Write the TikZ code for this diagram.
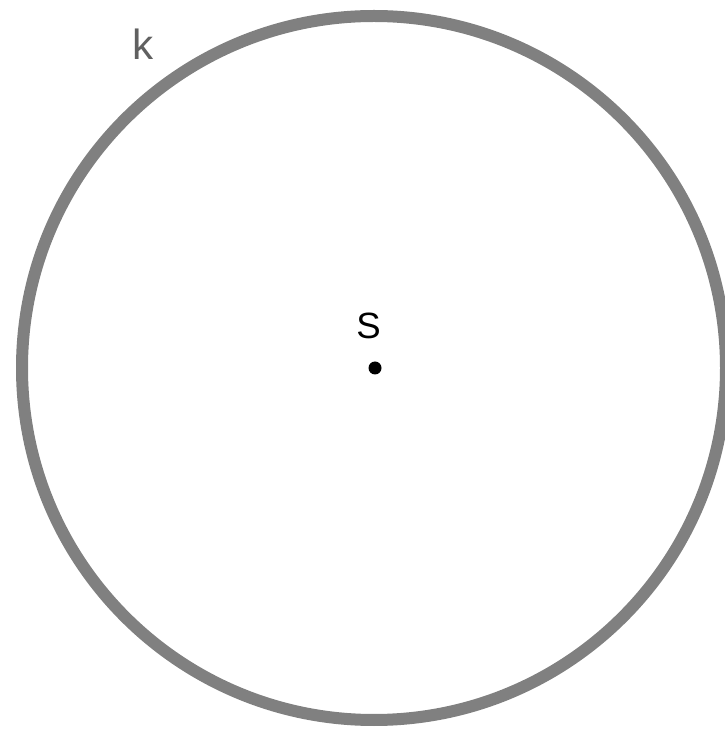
\documentclass[tikz,border=0pt]{standalone}
\usepackage{fontspec}
\setmainfont{Liberation Sans}
\usepackage{tikz}

\definecolor{circgray}{HTML}{808080}
\definecolor{labgray}{HTML}{606060}

\begin{document}
\begin{tikzpicture}
\useasboundingbox (0,0) rectangle (7.25,7.30);
\clip (0,0) rectangle (7.25,7.30);
\draw[circgray,line width=0.12cm] (3.74,3.62) circle (3.52);
\fill[black] (3.75,3.62) circle (0.065);
\node[font=\fontsize{10.4}{12}\selectfont,text=black,anchor=center] (S) at (3.685,4.045) {S};
\node[font=\fontsize{12}{14}\selectfont,text=labgray,anchor=center] (k) at (1.435,6.86) {k};
\end{tikzpicture}
\end{document}
